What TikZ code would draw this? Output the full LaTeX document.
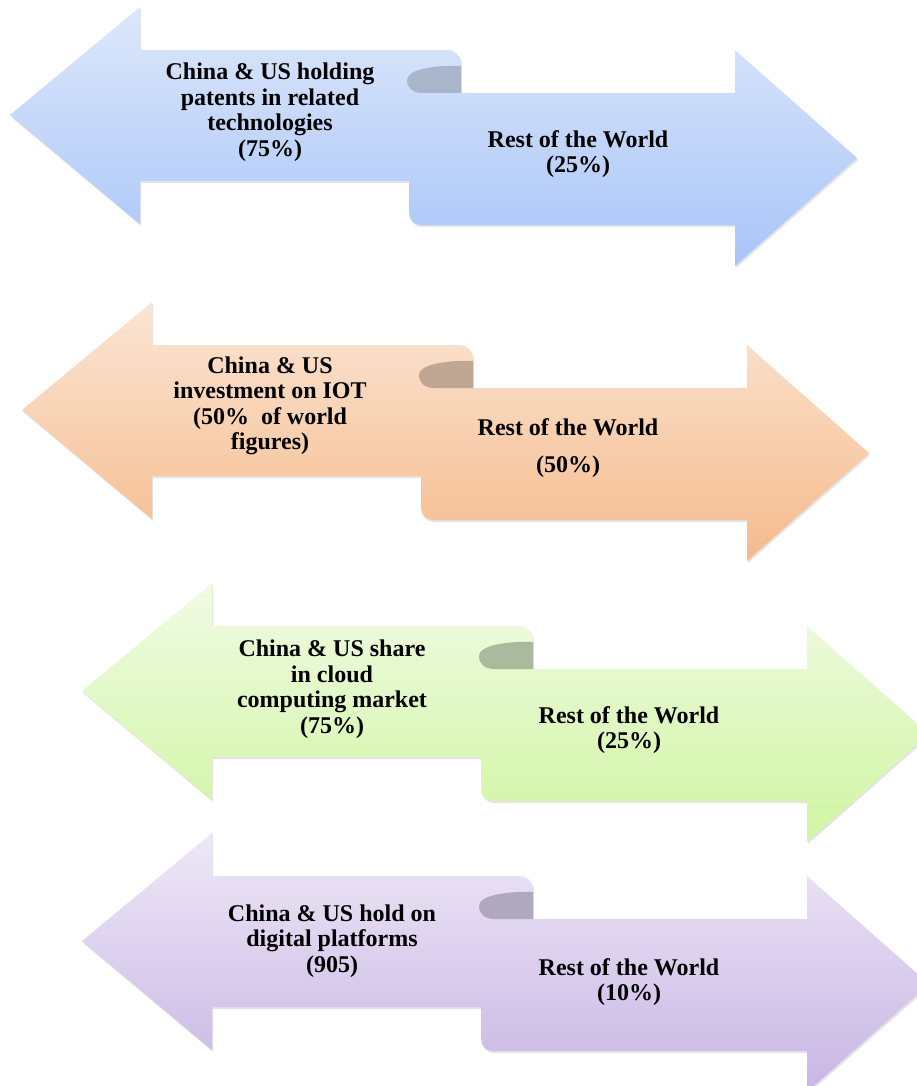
\documentclass[tikz,border=0pt]{standalone}
\usepackage{fontspec}
\setmainfont{Liberation Serif}
\usetikzlibrary{positioning,shadows}

\definecolor{blueTop}{HTML}{DDE7FB}
\definecolor{blueBot}{HTML}{A8C5F8}
\definecolor{blueCurl}{HTML}{A9B5CB}
\definecolor{orangeTop}{HTML}{FBE5D4}
\definecolor{orangeBot}{HTML}{F5BB8C}
\definecolor{orangeCurl}{HTML}{BFA794}
\definecolor{greenTop}{HTML}{F0FBE4}
\definecolor{greenBot}{HTML}{D0F5A2}
\definecolor{greenCurl}{HTML}{ABBA9C}
\definecolor{purpleTop}{HTML}{EEE8F6}
\definecolor{purpleBot}{HTML}{C8B6E5}
\definecolor{purpleCurl}{HTML}{B0A8BD}

\tikzset{
  twoway/.style={top color=#1Top, bottom color=#1Bot,
    drop shadow={opacity=0.22, shadow xshift=1pt, shadow yshift=-2pt}},
  curl/.style={fill=#1Curl},
  figtext/.style={font=\fontsize{24}{25.5}\selectfont\bfseries, align=center, text=black, inner sep=0pt}
}

\begin{document}
\begin{tikzpicture}[x=1pt,y=-1pt]
  \useasboundingbox (0,0) rectangle (916,1086);

  % the four double arrows
  \foreach \dx/\dy/\col in {0/0/blue, 12/295/orange, 72/576/green, 72/826/purple}{
    \begin{scope}[shift={(\dx,\dy)}]
      \path[twoway=\col]
        (10,115) -- (140,7) -- (140,50) -- (447,50) to[out=0,in=90] (461,63)
        -- (461,181) -- (140,181) -- (140,224) -- cycle
        (409,93) -- (735,93) -- (735,50) -- (857,158) -- (735,266)
        -- (735,225) -- (421,225) to[out=180,in=270] (409,213) -- cycle;
      \path[curl=\col] (461,66) .. controls (432,65) and (407,70) .. (407,80)
        .. controls (407,88) and (413,93) .. (422,93) -- (461,93) -- cycle;
    \end{scope}
  }

  % texts
  \node[figtext] (chinaA) at (270,112) {China \& US holding\\patents in related\\technologies\\(75\%)};
  \node[figtext] (restA) at (578,154) {Rest of the World\\(25\%)};

  \node[figtext] (chinaB) at (270,406) {China \& US\\investment on IOT\\(50\%~ of world\\figures)};
  \node[figtext] (restB) at (568,448) {Rest of the World\\[11pt](50\%)};

  \node[figtext] (chinaC) at (332,689) {China \& US share\\in cloud\\computing market\\(75\%)};
  \node[figtext] (restC) at (629,730) {Rest of the World\\(25\%)};

  \node[figtext] (chinaD) at (332,941) {China \& US hold on\\digital platforms\\(905)};
  \node[figtext] (restD) at (629,982) {Rest of the World\\(10\%)};
\end{tikzpicture}
\end{document}
